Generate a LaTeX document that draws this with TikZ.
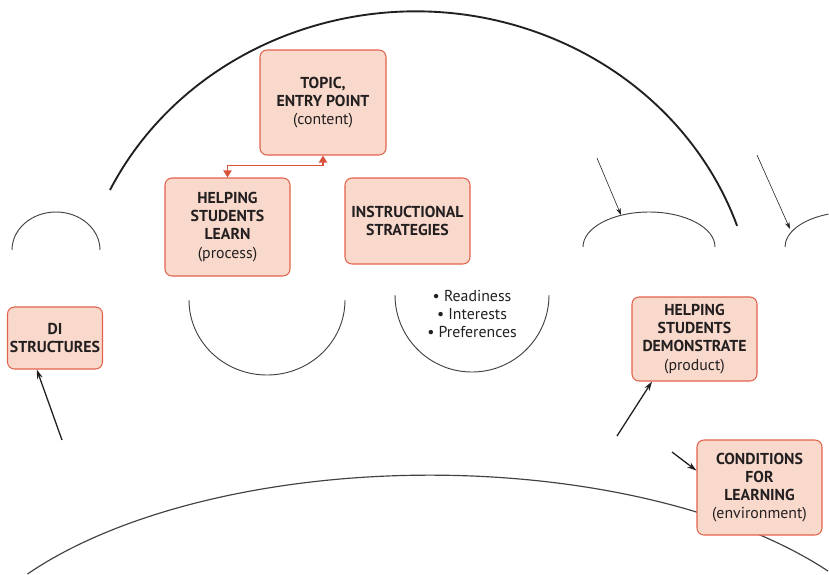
\documentclass[tikz,border=0pt]{standalone}
\usepackage{fontspec}
\setmainfont{PT Sans}
\usepackage{tikz}
\usetikzlibrary{arrows.meta, positioning, calc}

\definecolor{boxfill}{HTML}{F8D9CC}
\definecolor{boxline}{HTML}{E2624B}
\definecolor{linkred}{HTML}{D9533C}
\definecolor{inkdark}{HTML}{231F20}

\tikzset{
  box/.style={draw=boxline, fill=boxfill, line width=0.9pt, rounded corners=6pt,
    align=center, text=inkdark, font=\fontsize{13.5}{15.5}\selectfont, inner sep=2pt},
  link/.style={draw=linkred, line width=1.2pt,
    {Triangle[width=7pt,length=6pt]}-{Triangle[width=7pt,length=6pt]}},
  bigarc/.style={draw=inkdark, line width=1.6pt},
  halfround/.style={draw=inkdark!85, line width=0.8pt},
  pointer/.style={draw=inkdark, line width=1.1pt, -{Stealth[length=8pt,width=5pt]}},
  thinpointer/.style={draw=inkdark, line width=0.5pt, -{Stealth[length=6pt,width=4pt]}},
}

\begin{document}
\begin{tikzpicture}[x=0.03cm, y=-0.03cm]
  \useasboundingbox (0,0) rectangle (829,574);

  % Define the coordinates for the free arrow ends
  \coordinate (diA) at (62,440);
  \coordinate (demoA) at (617,436);
  \coordinate (envA) at (672,452);
  \coordinate (domeA) at (597,158);
  \coordinate (domeB) at (621,215);
  \coordinate (domeC) at (757,155);
  \coordinate (domeD) at (790,229);

  % Draw the two big arcs
  \draw[bigarc] (110,190) arc[start angle=154, end angle=19, x radius=10.2cm, y radius=9.54cm];
  \draw[halfround, line width=1pt] (27.5,574) arc[start angle=145.9, end angle=35, x radius=14.58cm, y radius=6.75cm];

  % Draw the domes and the bowls
  \draw[halfround] (12,250) arc[start angle=180, end angle=0, x radius=1.32cm, y radius=1.14cm];
  \draw[halfround] (583,247) arc[start angle=180, end angle=0, x radius=1.98cm, y radius=1.05cm];
  \draw[halfround] (785,247) arc[start angle=180, end angle=110, x radius=1.98cm, y radius=1.05cm];
  \draw[halfround] (189,300) arc[start angle=180, end angle=360, x radius=2.34cm, y radius=2.25cm];
  \draw[halfround] (395,295) arc[start angle=180, end angle=360, x radius=2.31cm, y radius=2.31cm];

  % Draw the boxes
  \node[box, minimum width=3.78cm, minimum height=3.15cm] (topic) at (323,102.5)
    {\textbf{TOPIC,}\\\textbf{ENTRY POINT}\\(content)};
  \node[box, minimum width=3.75cm, minimum height=2.94cm] (learn) at (227.5,227)
    {\textbf{HELPING}\\\textbf{STUDENTS}\\\textbf{LEARN}\\(process)};
  \node[box, minimum width=3.75cm, minimum height=2.58cm] (instr) at (407.5,221)
    {\textbf{INSTRUCTIONAL}\\\textbf{STRATEGIES}};
  \node[align=center, text=inkdark, font=\fontsize{13.5}{15.5}\selectfont] (learner) at (472,314)
    {\textbullet\ Readiness\\\textbullet\ Interests\\\textbullet\ Preferences};
  \node[box, minimum width=2.85cm, minimum height=1.86cm] (distr) at (55,338)
    {\textbf{DI}\\\textbf{STRUCTURES}};
  \node[box, minimum width=3.75cm, minimum height=2.52cm] (demo) at (694.5,339)
    {\textbf{HELPING}\\\textbf{STUDENTS}\\\textbf{DEMONSTRATE}\\(product)};
  \node[box, minimum width=3.75cm, minimum height=2.85cm] (env) at (759.5,487.5)
    {\textbf{CONDITIONS}\\\textbf{FOR}\\\textbf{LEARNING}\\(environment)};

  % Draw the connectors
  \draw[link] (topic.south) -- ++(0,10) -| (learn.north);
  \draw[pointer] (diA) -- (distr.240);
  \draw[pointer] (demoA) -- (demo.225);
  \draw[pointer] (envA) -- (env.165);
  \draw[thinpointer] (domeA) -- (domeB);
  \draw[thinpointer] (domeC) -- (domeD);
\end{tikzpicture}
\end{document}
